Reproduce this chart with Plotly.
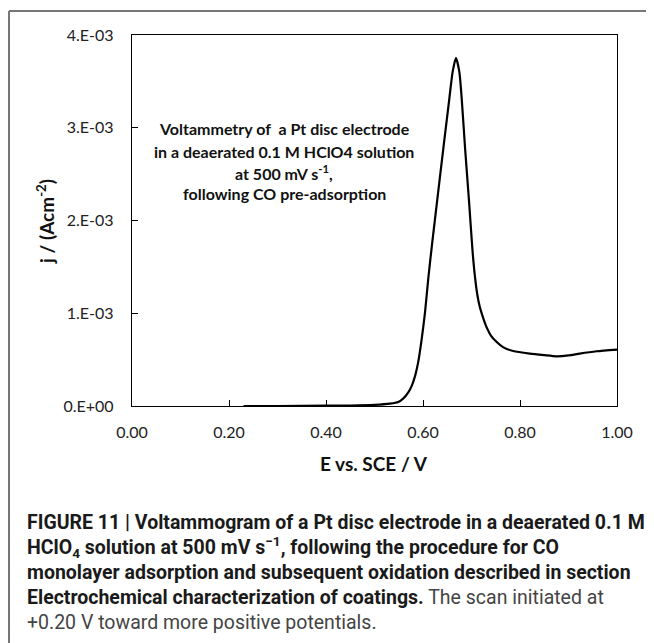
import plotly.graph_objects as go

# ---- data ----
E_V = [0.23, 0.30, 0.40, 0.45, 0.50, 0.532, 0.549, 0.559, 0.570, 0.577, 0.584,
       0.590, 0.597, 0.604, 0.611, 0.619, 0.630, 0.642, 0.654, 0.661, 0.668,
       0.675, 0.680, 0.687, 0.695, 0.702, 0.707, 0.712, 0.717, 0.724, 0.731, 0.740,
       0.752, 0.765, 0.786, 0.820, 0.850, 0.875, 0.900, 0.923, 0.958, 1.000]
j_mA = [0.0, 0.0, 0.003, 0.005, 0.012, 0.025, 0.043, 0.079, 0.15, 0.22, 0.33,
        0.47, 0.71, 1.00, 1.38, 1.76, 2.25, 2.78, 3.30, 3.60, 3.754,
        3.60, 3.30, 2.76, 2.20, 1.68, 1.40, 1.20, 1.07, 0.95, 0.85, 0.76,
        0.69, 0.635, 0.593, 0.565, 0.548, 0.536, 0.545, 0.565, 0.590, 0.608]
j_A = [v * 1e-3 for v in j_mA]

x_ticks = [0.0, 0.2, 0.4, 0.6, 0.8, 1.0]
y_ticks = [0.0, 0.001, 0.002, 0.003, 0.004]
y_ticktext = ["0.E+00", "1.E-03", "2.E-03", "3.E-03", "4.E-03"]

inset_lines = [
    "Voltammetry of&nbsp; a Pt disc electrode",
    "in a deaerated 0.1 M HClO4 solution",
    "at 500 mV s<sup>-1</sup>,",
    "following CO pre-adsorption",
]
caption_lines = [
    "<b>FIGURE 11 | Voltammogram of a Pt disc electrode in a deaerated 0.1 M</b>",
    "<b>HClO<sub>4</sub> solution at 500 mV s<sup>−1</sup>, following the procedure for CO</b>",
    "<b>monolayer adsorption and subsequent oxidation described in section</b>",
    "<b>Electrochemical characterization of coatings.</b> <span style='color:#444'>The scan initiated at</span>",
    "<span style='color:#444'>+0.20 V toward more positive potentials.</span>",
]

# ---- layout geometry (reference-window pixels; page body adds an 8px offset) ----
OFF = 8
W, H = 654 - OFF, 643 - OFF
PL, PR, PT, PB = 132, 617, 35, 406          # plot box in window pixels
PW, PH = PR - PL, PB - PT
L, T = PL - OFF, PT - OFF
R, B = W - (PR - OFF), H - (PB - OFF)


def px(x):
    return (x - PL) / PW


def py(y):
    return (PB - y) / PH


fig = go.Figure()
fig.add_trace(go.Scatter(x=E_V, y=j_A, mode="lines",
                         line=dict(color="black", width=2.2, shape="spline", smoothing=0.6),
                         showlegend=False, hoverinfo="skip"))

tickfont = dict(family="Lato, Open Sans, sans-serif", size=16, color="#222")
fig.update_xaxes(range=[0, 1], tickvals=x_ticks, tickformat=".2f", ticks="inside",
                 ticklen=6, tickcolor="black", showline=True, mirror=True,
                 linecolor="black", linewidth=1.4, showgrid=False, zeroline=False,
                 tickfont=tickfont, ticklabelstandoff=12)
fig.update_yaxes(range=[0, 0.004], tickvals=y_ticks, ticktext=y_ticktext, ticks="inside",
                 ticklen=6, tickcolor="black", showline=True, mirror=True,
                 linecolor="black", linewidth=1.4, showgrid=False, zeroline=False,
                 tickfont=tickfont, ticklabelstandoff=14)

ann = []
# axis titles
ann.append(dict(x=px(374), y=py(463), xref="paper", yref="paper", showarrow=False,
                text="<b>E vs. SCE / V</b>", xanchor="center", yanchor="middle",
                font=dict(family="Lato, sans-serif", size=19, color="#111")))
ann.append(dict(x=px(45), y=py(222), xref="paper", yref="paper", showarrow=False,
                text="<b>j / (Acm<sup>-2</sup>)</b>", textangle=-90,
                xanchor="center", yanchor="middle",
                font=dict(family="Lato, sans-serif", size=19, color="#111")))
# inset text
for t, yy in zip(inset_lines, [129, 151, 172, 193]):
    ann.append(dict(x=px(284), y=py(yy), xref="paper", yref="paper", showarrow=False,
                    text="<b>" + t + "</b>", xanchor="center", yanchor="middle",
                    font=dict(family="Lato, sans-serif", size=16, color="#111")))
# caption
for t, yy in zip(caption_lines, [522, 547, 572, 597, 622]):
    ann.append(dict(x=px(25), y=py(yy), xref="paper", yref="paper", showarrow=False,
                    text=t, xanchor="left", yanchor="middle", align="left",
                    font=dict(family="Roboto, sans-serif", size=19.5, color="#1a1a1a")))

shapes = [
    dict(type="line", xref="paper", yref="paper", x0=px(9), x1=px(700), y0=py(11), y1=py(11),
         line=dict(color="#777", width=2)),
    dict(type="line", xref="paper", yref="paper", x0=px(9), x1=px(9), y0=py(11), y1=py(700),
         line=dict(color="#777", width=2)),
]

fig.update_layout(width=W, height=H, margin=dict(l=L, r=R, t=T, b=B, autoexpand=False),
                  paper_bgcolor="white", plot_bgcolor="white",
                  annotations=ann, shapes=shapes, showlegend=False)

fig.write_html("out.html")
